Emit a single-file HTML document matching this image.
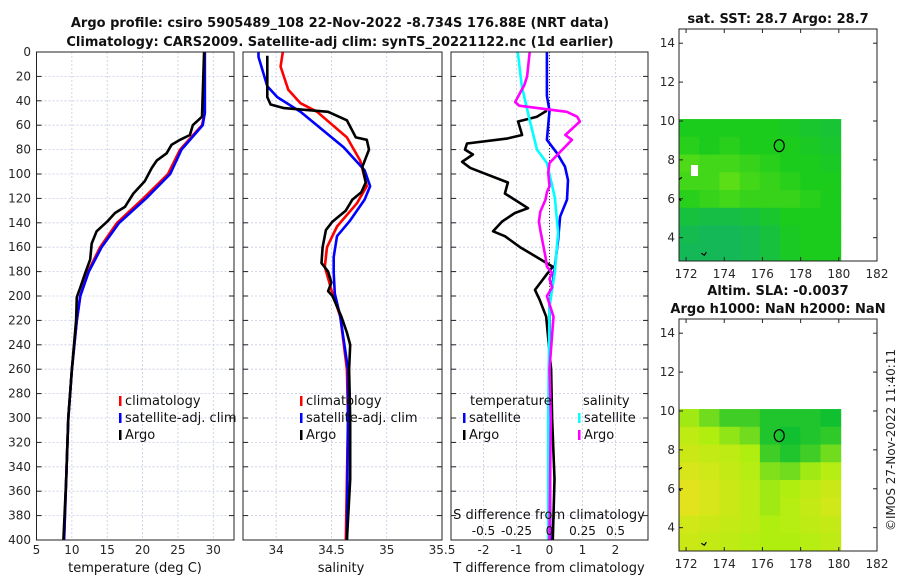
<!DOCTYPE html>
<html><head><meta charset="utf-8"><style>
html,body{margin:0;padding:0;background:#fff;}
svg{display:block;font-family:"DejaVu Sans","Liberation Sans",sans-serif;}
</style></head><body>
<svg id="fig" width="900" height="580" viewBox="0 0 900 580" xmlns="http://www.w3.org/2000/svg">
<rect width="900" height="580" fill="#fff"/>
<text x="340" y="27" text-anchor="middle" font-size="13" font-weight="bold" fill="#111">Argo profile: csiro 5905489_108 22-Nov-2022 -8.734S 176.88E (NRT data)</text>
<text x="340" y="46" text-anchor="middle" font-size="13" font-weight="bold" fill="#111">Climatology: CARS2009. Satellite-adj clim: synTS_20221122.nc (1d earlier)</text>
<text x="778" y="23" text-anchor="middle" font-size="13" font-weight="bold" fill="#111">sat. SST: 28.7 Argo: 28.7</text>
<text x="778" y="295" text-anchor="middle" font-size="13" font-weight="bold" fill="#111">Altim. SLA: -0.0037</text>
<text x="778" y="313" text-anchor="middle" font-size="13" font-weight="bold" fill="#111">Argo h1000: NaN h2000: NaN</text>
<text transform="translate(895,440) rotate(-90)" text-anchor="middle" font-size="12" fill="#222">©IMOS 27-Nov-2022 11:40:11</text>
<g id="g"></g>
</svg>
<script>
// ---------- data ----------
const depthTicks=[0,20,40,60,80,100,120,140,160,180,200,220,240,260,280,300,320,340,360,380,400];
const tempTicks=[5,10,15,20,25,30];
const salTicks=[34,34.5,35,35.5];
const dTTicks=[-2,-1,0,1,2];
const dSTickLabels=["-0.5","-0.25","0","0.25","0.5"];
const dSTickValues=[-0.5,-0.25,0,0.25,0.5];

const argoTempDepth=[0,53,60,68,72,76,83,89,95,106,116,127,132,139,147,157,170,181,193,201,220,260,300,350,400];
const argoTemp=[28.7,28.4,27.1,26.7,25.3,24.1,23.4,22.0,21.3,20.3,18.7,17.5,16.1,15.0,13.5,12.8,12.6,11.9,11.2,10.7,10.6,10.0,9.5,9.2,8.8];
const climTempDepth=[0,50,60,80,100,120,140,160,180,200,220,260,300,350,400];
const climTemp=[28.8,28.8,28.4,25.3,23.6,20.1,16.4,14.0,12.3,11.2,10.7,10.0,9.5,9.2,8.9];
const satTemp=[28.8,28.8,28.5,25.5,23.9,20.5,16.7,14.2,12.4,11.2,10.7,10.0,9.5,9.2,8.9];

const argoSalDepth=[3,37,43,46,49,56,70,72,80,94,107,115,121,130,139,146,160,173,180,189,196,200,217,230,240,260,300,350,400];
const argoSal=[33.92,33.92,33.95,34.07,34.47,34.64,34.72,34.82,34.84,34.78,34.81,34.77,34.69,34.63,34.51,34.45,34.42,34.41,34.47,34.50,34.47,34.51,34.59,34.64,34.67,34.66,34.67,34.67,34.64];
const climSalDepth=[0,12,31,42,49,70,89,110,124,143,160,176,195,217,260,300,400];
const climSal=[34.06,34.04,34.11,34.22,34.37,34.64,34.76,34.82,34.73,34.55,34.46,34.44,34.50,34.58,34.64,34.65,34.63];
const satSalDepth=[0,4,28,37,49,78,97,110,121,138,151,168,181,198,217,260,300,400];
const satSal=[33.84,33.84,33.92,34.01,34.22,34.61,34.80,34.85,34.80,34.67,34.55,34.52,34.52,34.53,34.58,34.65,34.65,34.64];

const argoDTDepth=[48,53,57,68,71,75,80,84,90,95,99,107,116,128,132,139,147,151,160,176,181,195,203,217,260,300,350,400];
const argoDT=[-0.08,-0.38,-0.95,-0.83,-1.29,-2.5,-2.56,-2.32,-2.65,-2.4,-2.02,-1.26,-1.35,-0.65,-1.05,-1.44,-1.71,-1.35,-0.89,0.1,-0.05,-0.44,-0.3,-0.1,0.05,0.08,0.15,0.1];
const satDTDepth=[0,36,48,72,83,94,105,121,135,154,181,208,300,400];
const satDT=[-0.08,-0.08,0,-0.08,0.23,0.47,0.56,0.53,0.32,0.26,0.14,0.0,0.01,0.02];
const satDSDepth=[0,28,56,80,91,119,148,181,208,300,400];
const satDS=[-0.24,-0.21,-0.15,-0.095,-0.02,0.04,0.065,0.04,0.0,-0.01,-0.01];
const argoDSDepth=[0,20,27,41,44,49,53,57,68,72,82,91,99,110,115,121,131,139,146,168,176,181,186,193,200,217,260,300,400];
const argoDS=[-0.15,-0.17,-0.19,-0.26,-0.23,0.13,0.21,0.23,0.12,0.17,0.08,0.0,-0.01,0.0,-0.02,-0.03,-0.07,-0.08,-0.07,-0.03,-0.02,0.02,0.0,0.02,-0.02,0.03,0.0,0.01,0.0];

const mapLonTicks=[172,174,176,178,180,182];
const mapLatTicks=[4,6,8,10,12,14];
const sstGrid=[
[1.0,1.0,1.0,1.0,1.0,0.9,0.8,0.7],
[1.1,1.0,1.1,1.0,1.0,1.0,0.9,0.8],
[1.4,1.3,1.3,1.2,1.1,1.0,1.0,0.9],
[1.3,1.3,1.5,1.3,1.2,1.1,1.0,1.0],
[1.1,1.2,1.3,1.2,1.2,1.2,1.1,1.0],
[0.6,0.5,0.5,0.6,0.8,1.0,1.0,1.0],
[0.4,0.3,0.3,0.4,0.6,0.9,1.0,1.0],
[0.3,0.3,0.3,0.4,0.6,0.9,1.0,1.0]];
const slaGrid=[
[0.9,0.6,0.3,0.3,0.1,0.1,0.1,0.0],
[1.2,1.0,0.8,0.6,0.1,0.0,0.1,0.2],
[1.4,1.3,1.2,1.0,0.3,0.1,0.3,0.6],
[1.6,1.5,1.3,1.1,0.7,0.6,0.9,1.1],
[1.8,1.6,1.4,1.2,0.9,1.0,1.2,1.4],
[1.8,1.6,1.4,1.2,0.9,1.1,1.3,1.5],
[1.5,1.4,1.3,1.2,1.0,1.1,1.2,1.3],
[1.4,1.3,1.2,1.1,1.0,1.0,1.1,1.2]];
const floatLon=[176.88];
const floatLat=[8.73];

// ---------- helpers ----------
const NS="http://www.w3.org/2000/svg";
const G=document.getElementById('g');
function mk(tag,attrs,parent){const e=document.createElementNS(NS,tag);for(const k in attrs)e.setAttribute(k,attrs[k]);(parent||G).appendChild(e);return e;}
const TOP=52,BOT=540;
const yD=d=>TOP+d*(BOT-TOP)/400;
function lin(d0,d1,r0,r1){return v=>r0+(v-d0)*(r1-r0)/(d1-d0);}
const P1={x0:36.5,x1:234},P2={x0:243,x1:442},P3={x0:451,x1:648};
const xT=lin(5,33,36.5,234.5);
const xS=lin(33.7,35.5,243,442);
const xDT=lin(-3,3,450.5,648.5);
const xDS=v=>xDT(v*4);

function panel(P,name,xTicks,xf,labels){
  const g=mk('g',{});
  
  
  depthTicks.forEach(d=>{const l=mk('line',{x1:P.x0,x2:P.x1,y1:yD(d),y2:yD(d),stroke:'#c5cbe6','stroke-width':0.8,'stroke-dasharray':'2,2'},g);
    
    mk('line',{x1:P.x0,x2:P.x0+5,y1:yD(d),y2:yD(d),stroke:'#222'},g);
    mk('line',{x1:P.x1-5,x2:P.x1,y1:yD(d),y2:yD(d),stroke:'#222'},g);});
  xTicks.forEach((t,i)=>{const x=xf(t);
    if(x>P.x0+1&&x<P.x1-1){const l=mk('line',{x1:x,x2:x,y1:TOP,y2:BOT,stroke:'#c5cbe6','stroke-width':0.8,'stroke-dasharray':'2,2'},g);
      }
    const tx=mk('text',{x:x,y:554,'text-anchor':'middle','font-size':12,fill:'#262626'},g);
    tx.textContent=labels?labels[i]:String(t);
    });
  return g;
}
function frame(P,g){mk('rect',{x:P.x0,y:TOP,width:P.x1-P.x0,height:BOT-TOP,fill:'none',stroke:'#222','stroke-width':1},g);}
function line(depths,vals,xf,color,name,g){
  const pts=depths.map((d,i)=>xf(vals[i]).toFixed(1)+','+yD(d).toFixed(1)).join(' ');
  const p=mk('polyline',{points:pts,fill:'none',stroke:color,'stroke-width':2.6,'stroke-linejoin':'round'},g);
  
  
}
function legend(x,y,color,label,g){
  const m=mk('rect',{x:x,y:y-9,width:2.5,height:10,fill:color},g);
  
  const t=mk('text',{x:x+6,y:y,'font-size':13,fill:'#111'},g);t.textContent=label;
  
}

depthTicks.forEach(d=>{const t=mk('text',{x:31,y:yD(d)+4,'text-anchor':'end','font-size':12,fill:'#262626'});t.textContent=d;
  });

const g1=panel(P1,'temperature-panel',tempTicks,xT);
line(climTempDepth,climTemp,xT,'#f00','climatology-temp-line',g1);
line(climTempDepth,satTemp,xT,'#00f','satellite-temp-line',g1);
line(argoTempDepth,argoTemp,xT,'#000','argo-temp-line',g1);
frame(P1,g1);
legend(119,405,'#f00','climatology',g1);legend(119,422,'#00f','satellite-adj. clim',g1);legend(119,439,'#000','Argo',g1);
let t=mk('text',{x:135,y:572,'text-anchor':'middle','font-size':13,fill:'#111'});t.textContent='temperature (deg C)';


const g2=panel(P2,'salinity-panel',salTicks,xS);
line(climSalDepth,climSal,xS,'#f00','climatology-salinity-line',g2);
line(satSalDepth,satSal,xS,'#00f','satellite-salinity-line',g2);
line(argoSalDepth,argoSal,xS,'#000','argo-salinity-line',g2);
frame(P2,g2);
legend(300,405,'#f00','climatology',g2);legend(300,422,'#00f','satellite-adj. clim',g2);legend(300,439,'#000','Argo',g2);
t=mk('text',{x:341,y:572,'text-anchor':'middle','font-size':13,fill:'#111'});t.textContent='salinity';


const g3=panel(P3,'difference-panel',dTTicks,xDT);
const zl=mk('line',{x1:xDT(0),x2:xDT(0),y1:TOP,y2:BOT,stroke:'#333','stroke-width':1,'stroke-dasharray':'1,2'},g3);

line(argoDTDepth,argoDT,xDT,'#000','argo-temp-diff-line',g3);
line(satDTDepth,satDT,xDT,'#00f','satellite-temp-diff-line',g3);
line(satDSDepth,satDS,xDS,'#0ff','satellite-salinity-diff-line',g3);
line(argoDSDepth,argoDS,xDS,'#f0f','argo-salinity-diff-line',g3);
frame(P3,g3);
t=mk('text',{x:470,y:405,'font-size':13,fill:'#111'},g3);t.textContent='temperature';

t=mk('text',{x:583,y:405,'font-size':13,fill:'#111'},g3);t.textContent='salinity';

legend(463,422,'#00f','satellite',g3);legend(463,439,'#000','Argo',g3);
legend(578,422,'#0ff','satellite',g3);legend(578,439,'#f0f','Argo',g3);
t=mk('text',{x:549,y:519,'text-anchor':'middle','font-size':13,fill:'#111'});t.textContent='S difference from climatology';

dSTickValues.forEach((v,i)=>{const tt=mk('text',{x:xDS(v),y:535,'text-anchor':'middle','font-size':12,fill:'#111'});tt.textContent=dSTickLabels[i];
  });
t=mk('text',{x:549,y:572,'text-anchor':'middle','font-size':13,fill:'#111'});t.textContent='T difference from climatology';


function mix(a,b,f){return a.map((v,i)=>Math.round(v+(b[i]-v)*f));}
function cmap(stops,v){const i=Math.min(Math.floor(v),stops.length-2);const f=Math.max(0,Math.min(1,v-i));const c=mix(stops[i],stops[i+1],f);return `rgb(${c[0]},${c[1]},${c[2]})`;}
const sstStops=[[16,176,112],[28,204,28],[156,239,16]];
const slaStops=[[16,192,48],[176,238,16],[240,224,32]];
function map(top,grid,stops,name){
  const L=679,R=877,B=top+232;
  const xm=lin(171.63,182,L,R), ym=lin(14.73,2.8,top,B);
  const g=mk('g',{});
  
  const lon0=171.63,lon1=180.1,lat0=10.1,lat1=2.8;
  const nr=grid.length,nc=grid[0].length;
  grid.forEach((row,r)=>row.forEach((v,c)=>{
    const x=xm(lon0+(lon1-lon0)*c/nc),x2=xm(lon0+(lon1-lon0)*(c+1)/nc);
    const y=ym(lat0+(lat1-lat0)*r/nr),y2=ym(lat0+(lat1-lat0)*(r+1)/nr);
    const cell=mk('rect',{x:x,y:y,width:x2-x+0.5,height:y2-y+0.5,fill:cmap(stops,v)},g);
    
  }));
  mk('rect',{x:L,y:top,width:R-L,height:B-top,fill:'none',stroke:'#222'},g);
  mapLonTicks.forEach(lo=>{const x=xm(lo);mk('line',{x1:x,x2:x,y1:B,y2:B-4,stroke:'#222'},g);mk('line',{x1:x,x2:x,y1:top,y2:top+4,stroke:'#222'},g);
    const tt=mk('text',{x:x,y:B+17,'text-anchor':'middle','font-size':12,fill:'#262626'},g);tt.textContent=lo;
    });
  mapLatTicks.forEach(la=>{const y=ym(la);mk('line',{x1:L,x2:L+4,y1:y,y2:y,stroke:'#222'},g);mk('line',{x1:R,x2:R-4,y1:y,y2:y,stroke:'#222'},g);
    const tt=mk('text',{x:L-4,y:y+4,'text-anchor':'end','font-size':12,fill:'#262626'},g);tt.textContent=la;
    });
  const c=mk('ellipse',{cx:xm(floatLon[0]),cy:ym(floatLat[0]),rx:5,ry:6,fill:'none',stroke:'#000','stroke-width':1.2},g);
  
  mk('path',{d:`M${L} ${ym(7)} l3 -2 M${L} ${ym(6)} l2 2 M${xm(172.8)} ${ym(3.2)} l3 2 l2 -3`,stroke:'#000','stroke-width':1.2,fill:'none'},g);
  return {g,xm,ym};
}
const m1=map(29,sstGrid,sstStops,'sst-map');
const w=mk('rect',{x:691,y:165,width:7,height:11,fill:'#fff'},m1.g);

map(319,slaGrid,slaStops,'sla-map');
</script>
</body></html>
